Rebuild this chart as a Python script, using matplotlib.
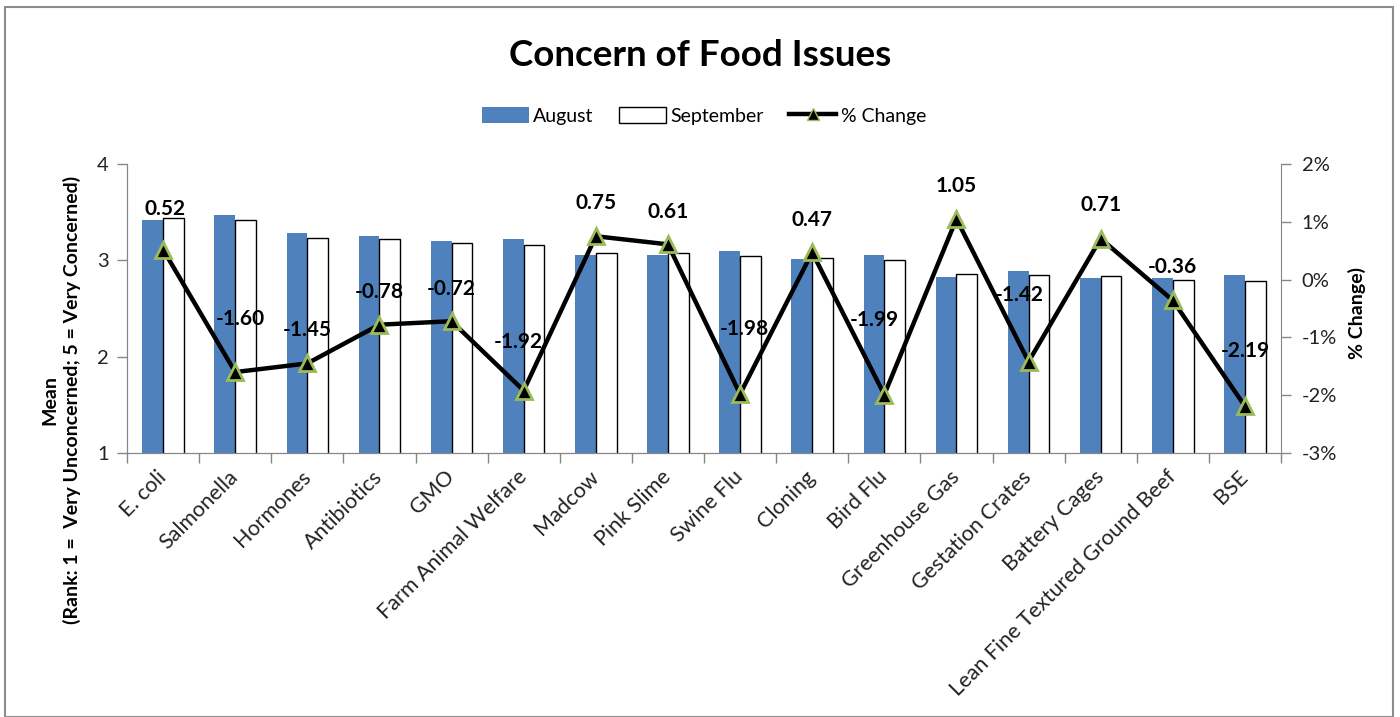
import matplotlib
matplotlib.use("Agg")
import matplotlib.pyplot as plt
from matplotlib.patches import Rectangle
from matplotlib.lines import Line2D
from matplotlib.ticker import FuncFormatter, MultipleLocator
import numpy as np

plt.rcParams['font.family'] = ['Lato', 'DejaVu Sans']

categories = ["E. coli", "Salmonella", "Hormones", "Antibiotics", "GMO",
              "Farm Animal Welfare", "Madcow", "Pink Slime", "Swine Flu",
              "Cloning", "Bird Flu", "Greenhouse Gas", "Gestation Crates",
              "Battery Cages", "Lean Fine Textured Ground Beef", "BSE"]
august = [3.42, 3.475, 3.285, 3.25, 3.205, 3.226, 3.06, 3.06, 3.10,
          3.015, 3.06, 2.825, 2.89, 2.82, 2.82, 2.85]
september = [3.44, 3.42, 3.233, 3.22, 3.18, 3.16, 3.08, 3.08, 3.04,
             3.02, 3.00, 2.86, 2.85, 2.84, 2.80, 2.79]
pct_change = [0.52, -1.60, -1.45, -0.78, -0.72, -1.92, 0.75, 0.61, -1.98,
              0.47, -1.99, 1.05, -1.42, 0.71, -0.36, -2.19]

# label offsets in pixels (dx right, dy up) relative to the marker
label_dx = [2, 5, 0, 0, 0, -5, 0, 0, 4, 0, -10, 0, -9, 0, 0, 0]
label_dy = [41, 53, 33, 33, 32, 49, 33, 32, 65, 32, 75, 33, 67, 34, 33, 55]

W, H = 1400, 717
fig = plt.figure(figsize=(W / 100, H / 100), dpi=100)
fig.patch.set_facecolor('white')

# outer frame
fig.add_artist(Rectangle((5 / W, 0.0), (1393 - 5) / W, (H - 7) / H,
                         transform=fig.transFigure, fill=False,
                         edgecolor='#8c8c8c', linewidth=1.5))

ax = fig.add_axes([127 / W, 1 - 453 / H, (1281 - 127) / W, (453 - 164) / H])
ax2 = ax.twinx()

x = np.arange(len(categories))
bw = 0.287
blue = '#4F81BD'
axis_grey = '#868686'

ax.bar(x - bw / 2, august, width=bw, bottom=0, color=blue, edgecolor='none',
       label='August', zorder=2)
ax.bar(x + bw / 2, september, width=bw, color='white', edgecolor='black',
       linewidth=1.0, label='September', zorder=2)

ax.set_ylim(1, 4)
ax.set_xlim(-0.5, len(categories) - 0.5)
ax.yaxis.set_major_locator(MultipleLocator(1))
ax.set_xticks(x)
ax.set_xticklabels(categories, rotation=45, ha='right', va='center',
                   rotation_mode='anchor', fontsize=15.5, color='#222222')
ax.tick_params(axis='x', which='major', length=0, pad=15)
ax.set_xticks(np.arange(len(categories) + 1) - 0.5, minor=True)
ax.tick_params(axis='x', which='minor', length=7, color=axis_grey, width=1)
ax.tick_params(axis='y', length=7, color=axis_grey, width=1,
               labelsize=14.5, labelcolor='#222222', pad=6)

for s in ['top']:
    ax.spines[s].set_visible(False)
    ax2.spines[s].set_visible(False)
for s in ['left', 'bottom', 'right']:
    ax.spines[s].set_color(axis_grey)
    ax2.spines[s].set_color(axis_grey)
ax.spines['right'].set_visible(False)

ax2.plot(x, pct_change, color='black', linewidth=3.2, marker='^',
         markersize=12, markerfacecolor='black', markeredgecolor='#9BBB59',
         markeredgewidth=2, zorder=5, label='% Change')
ax2.set_ylim(-3, 2)
ax2.yaxis.set_major_locator(MultipleLocator(1))
ax2.yaxis.set_major_formatter(FuncFormatter(lambda v, p: f"{v:.0f}%"))
ax2.tick_params(axis='y', length=7, color=axis_grey, width=1,
                labelsize=14.5, labelcolor='#222222', pad=8)
ax2.set_zorder(ax.get_zorder() + 1)
ax2.patch.set_visible(False)

for i, v in enumerate(pct_change):
    ax2.annotate(f"{v:.2f}", (x[i], v),
                 xytext=(label_dx[i] * 0.72, label_dy[i] * 0.72),
                 textcoords='offset points', ha='center', va='center',
                 fontsize=15, fontweight='bold', color='black', zorder=6)

# title
fig.text(700 / W, 1 - 55 / H, "Concern of Food Issues", ha='center',
         va='center', fontsize=26.5, fontweight='bold')

# axis titles
fig.text(61 / W, 1 - 400 / H,
         "Mean\n(Rank: 1 =  Very Unconcerned; 5 = Very Concerned)",
         rotation=90, ha='center', va='center', fontsize=14,
         fontweight='bold', multialignment='center', linespacing=1.3)
fig.text(1357 / W, 1 - 313 / H, "% Change)", rotation=90, ha='center',
         va='center', fontsize=14, fontweight='bold')

# legend
handles = [Rectangle((0, 0), 1, 1, facecolor=blue, edgecolor='none'),
           Rectangle((0, 0), 1, 1, facecolor='white', edgecolor='black',
                     linewidth=1.0),
           Line2D([0], [0], color='black', linewidth=3.2, marker='^',
                  markersize=8, markerfacecolor='black',
                  markeredgecolor='#9BBB59', markeredgewidth=1)]
fig.legend(handles, ['August', 'September', '% Change'], loc='center',
           bbox_to_anchor=(704 / W, 1 - 116 / H), ncol=3, frameon=False,
           fontsize=14, handlelength=2.4, handleheight=0.9,
           handletextpad=0.25, columnspacing=1.3)

fig.savefig("out.png", dpi=100, facecolor='white')
